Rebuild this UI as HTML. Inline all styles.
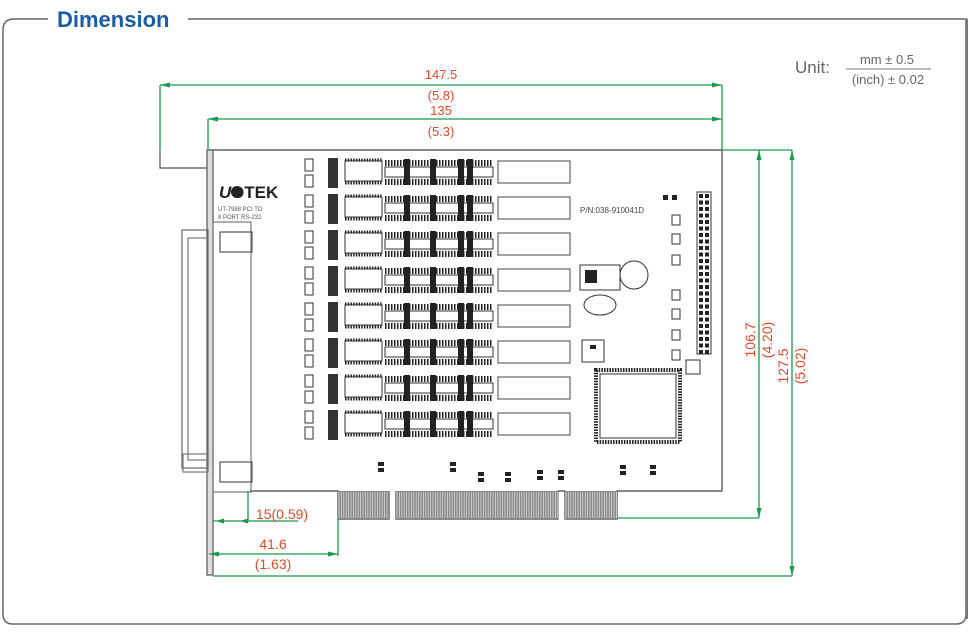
<!DOCTYPE html>
<html><head><meta charset="utf-8"><style>
body{margin:0;background:#fff;width:970px;height:637px;overflow:hidden;font-family:"Liberation Sans",sans-serif}
svg{position:absolute;left:0;top:0}
</style></head><body>
<svg id="s" width="970" height="637" viewBox="0 0 970 637" xmlns="http://www.w3.org/2000/svg">
<defs>
<marker id="a" markerWidth="10" markerHeight="6" refX="10" refY="3" orient="auto-start-reverse" markerUnits="userSpaceOnUse"><path d="M10,3 L0,0.5 L0,5.5Z" fill="#1a9a4a"/></marker>
</defs>
<path d="M48,19 H14 Q3,19 3,30 V614 Q3,624 13,624 H956 Q966,624 966,614 V19 H188" fill="none" stroke="#666" stroke-width="1.5"/>
<rect x="966" y="19" width="2" height="600" fill="#777"/>
<text x="57" y="27" font-size="22" font-weight="bold" fill="#1a5ca8">Dimension</text>
<text x="795" y="73" font-size="17" fill="#666">Unit:</text>
<text x="887" y="64" font-size="13" fill="#666" text-anchor="middle">mm ± 0.5</text>
<line x1="846" y1="69" x2="931" y2="69" stroke="#777" stroke-width="1"/>
<text x="888" y="84" font-size="13" fill="#666" text-anchor="middle">(inch) ± 0.02</text>

<g id="board" stroke="#444" fill="none" stroke-width="1.2">
<path d="M208,150 H722 V491 H617 V519 H565 V491 H558 M396,491 V519 H558 V491 M389,491 V519 H338 V491 H250"/>
<path d="M160,150 V168 H208" stroke="#555"/>
<rect x="207" y="150" width="6" height="425" fill="#ddd" stroke="#555"/>
<rect x="182" y="230" width="26" height="238" stroke="#666"/>
<rect x="188" y="238" width="20" height="222" stroke="#777"/>
<rect x="183" y="454" width="25" height="18" stroke="#777"/>
<rect x="213" y="222" width="38" height="270" stroke="#777"/>
<rect x="220" y="232" width="32" height="20" stroke="#555"/>
<rect x="220" y="462" width="32" height="20" stroke="#555"/>
</g>
<g id="fing"></g>
<g id="rows"></g>
<text x="219" y="198" font-size="17" font-weight="900" fill="#222" font-style="italic">U</text>
<text x="231" y="198" font-size="17" font-weight="900" fill="#222">OTEK</text>
<circle cx="237" cy="192" r="6" fill="#222"/>
<text x="218" y="211" font-size="6" fill="#555">UT-7988  PCI  TO</text>
<text x="218" y="219" font-size="6" fill="#555">8 PORT  RS-232</text>
<text x="580" y="213" font-size="8" fill="#444">P/N:038-910041D</text>
<g id="hdr"></g>
<rect x="596" y="370" width="84" height="72" fill="none" stroke="#222" stroke-width="4" stroke-dasharray="1.5 1.2"/>
<rect x="600" y="374" width="76" height="64" fill="#fff" stroke="#333"/>
<rect x="580" y="265" width="40" height="25" fill="#fff" stroke="#333"/>
<rect x="585" y="270" width="12" height="13" fill="#222"/>
<rect x="590" y="345" width="6" height="4" fill="#222"/>
<rect x="582" y="340" width="22" height="22" fill="none" stroke="#333"/>
<ellipse cx="634" cy="275" rx="14" ry="14" fill="none" stroke="#333"/>
<ellipse cx="600" cy="305" rx="16" ry="10" fill="none" stroke="#333"/>

<g stroke="#1a9a4a" stroke-width="1.3" fill="none">
<line x1="160" y1="85" x2="722" y2="85" marker-start="url(#a)" marker-end="url(#a)"/>
<line x1="160" y1="85" x2="160" y2="150"/>
<line x1="722" y1="85" x2="722" y2="150"/>
<line x1="208" y1="119" x2="722" y2="119" marker-start="url(#a)" marker-end="url(#a)"/>
<line x1="208" y1="119" x2="208" y2="150"/>
<line x1="722" y1="150" x2="792" y2="150"/>
<line x1="759" y1="150" x2="759" y2="518" marker-start="url(#a)" marker-end="url(#a)"/>
<line x1="792" y1="150" x2="792" y2="576" marker-start="url(#a)" marker-end="url(#a)"/>
<line x1="617" y1="518" x2="759" y2="518"/>
<line x1="213" y1="576" x2="792" y2="576"/>
<line x1="213" y1="521" x2="298" y2="521"/>
<line x1="248" y1="491" x2="248" y2="521"/>
<line x1="338" y1="519" x2="338" y2="556"/>
<line x1="209" y1="554" x2="338" y2="554" marker-start="url(#a)" marker-end="url(#a)"/>
</g>
<path d="M216,521 l8,-2.5 v5z M240,521 l8,-2.5 v5z" fill="#1a9a4a"/>
<g fill="#e04a2a" font-size="13" text-anchor="middle">
<text x="441" y="79">147.5</text>
<text x="441" y="100">(5.8)</text>
<text x="441" y="115">135</text>
<text x="441" y="136">(5.3)</text>
<text x="282" y="519" font-size="14">15(0.59)</text>
<text x="273" y="549" font-size="14">41.6</text>
<text x="273" y="569" font-size="14">(1.63)</text>
<text transform="translate(755,340) rotate(-90)" font-size="14">106.7</text>
<text transform="translate(772,340) rotate(-90)" font-size="14">(4.20)</text>
<text transform="translate(788,366) rotate(-90)" font-size="14">127.5</text>
<text transform="translate(805,366) rotate(-90)" font-size="14">(5.02)</text>
</g>
</svg>
<script>
var NS="http://www.w3.org/2000/svg";
function el(p,t,a){var e=document.createElementNS(NS,t);for(var k in a)e.setAttribute(k,a[k]);p.appendChild(e);return e;}
var f=document.getElementById("fing");
[[338,389],[396,558],[565,617]].forEach(function(r){el(f,"rect",{x:r[0],y:491,width:r[1]-r[0],height:28,fill:"#888"});
for(var x=r[0]+1;x<r[1];x+=2.4)el(f,"line",{x1:x,y1:492,x2:x,y2:518,stroke:"#ddd","stroke-width":0.8});});
var g=document.getElementById("rows");
for(var i=0;i<8;i++){var y=161+i*36;
 el(g,"rect",{x:305,y:y-2,width:8,height:12,fill:"none",stroke:"#333"});
 el(g,"rect",{x:305,y:y+14,width:8,height:12,fill:"none",stroke:"#333"});
 el(g,"rect",{x:328,y:y-3,width:10,height:30,fill:"#333"});
 el(g,"rect",{x:345,y:y,width:37,height:20,fill:"#fff",stroke:"#333"});
 el(g,"line",{x1:345,y1:y-1,x2:382,y2:y-1,stroke:"#222","stroke-width":3,"stroke-dasharray":"1.5 1.2"});
 el(g,"line",{x1:345,y1:y+22,x2:382,y2:y+22,stroke:"#222","stroke-width":3,"stroke-dasharray":"1.5 1.2"});
 el(g,"rect",{x:385,y:y+6,width:108,height:10,fill:"#fff",stroke:"#333"});
 el(g,"line",{x1:385,y1:y+2,x2:493,y2:y+2,stroke:"#222","stroke-width":6,"stroke-dasharray":"1.5 1.5"});
 el(g,"line",{x1:385,y1:y+21,x2:493,y2:y+21,stroke:"#222","stroke-width":6,"stroke-dasharray":"1.5 1.5"});
 [407,433,461,470].forEach(function(x){el(g,"rect",{x:x-3,y:y-2,width:6,height:26,fill:"#222"});});
 el(g,"rect",{x:498,y:y,width:72,height:22,fill:"#fff",stroke:"#444"});
}
var h=document.getElementById("hdr");
el(h,"rect",{x:697,y:192,width:14,height:162,fill:"none",stroke:"#333"});
for(var y=194;y<352;y+=6.5){el(h,"rect",{x:699,y:y,width:4,height:4,fill:"#222"});el(h,"rect",{x:705,y:y,width:4,height:4,fill:"#222"});}
[[672,215],[672,234],[672,255],[672,290],[672,309],[672,330],[672,350]].forEach(function(p){el(h,"rect",{x:p[0],y:p[1],width:8,height:10,fill:"none",stroke:"#333"});});
el(h,"rect",{x:663,y:195,width:5,height:5,fill:"#222"});el(h,"rect",{x:672,y:195,width:5,height:5,fill:"#222"});
el(h,"rect",{x:686,y:360,width:14,height:14,fill:"none",stroke:"#333"});
[[378,462],[450,462],[478,472],[505,472],[537,470],[558,470],[620,465],[650,465]].forEach(function(p){el(h,"rect",{x:p[0],y:p[1],width:6,height:4,fill:"#222"});el(h,"rect",{x:p[0],y:p[1]+6,width:6,height:4,fill:"#222"});});
</script>
</body></html>
